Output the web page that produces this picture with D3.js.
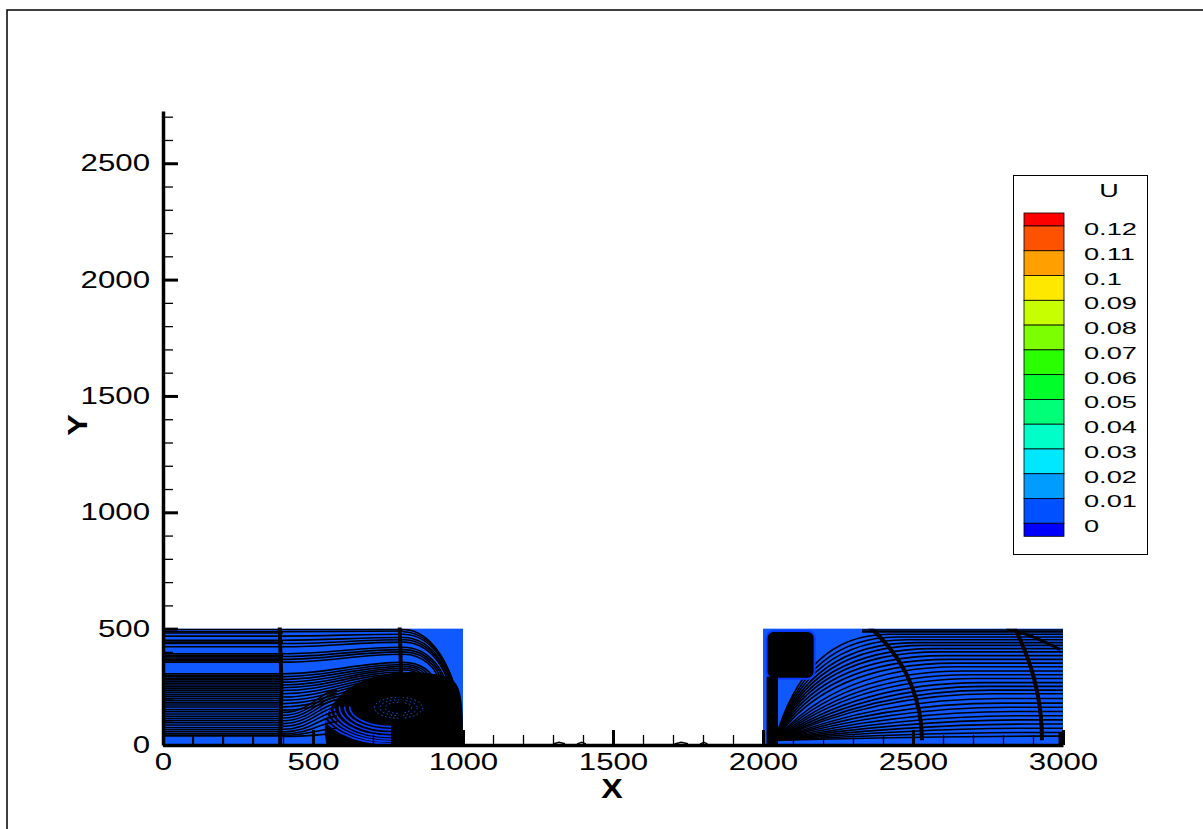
<!DOCTYPE html>
<html>
<head>
<meta charset="utf-8">
<script src="https://cdn.jsdelivr.net/npm/d3@7"></script>
<style>
body { margin: 0; background: #fff; }
text { font-family: "Liberation Sans", Arial, sans-serif; }
</style>
</head>
<body>
<div id="chart"></div>
<script>
// axis ticks
var xMajor = [0, 500, 1000, 1500, 2000, 2500, 3000];
var yMajor = [0, 500, 1000, 1500, 2000, 2500];

// contour legend (U)
var legendValues = [0.12, 0.11, 0.1, 0.09, 0.08, 0.07, 0.06, 0.05, 0.04, 0.03, 0.02, 0.01, 0];
var legendLabels = ["0.12", "0.11", "0.1", "0.09", "0.08", "0.07", "0.06", "0.05", "0.04", "0.03", "0.02", "0.01", "0"];
var legendColors = ["#ff0000", "#ff5200", "#ffa000", "#ffe800", "#c8ff00", "#7cff00", "#2aff00", "#00ff2a",
                    "#00ff78", "#00ffc8", "#00e8ff", "#009cff", "#0050ff", "#0000ff"];

// blue contour blocks [x0, x1, y0, y1]
var blocks = [[0, 1000, 0, 500], [2000, 3000, 0, 500]];

// left block: streamlines coming in from the left, y at x=0..400
var leftUpY = [497, 487, 481, 468, 450, 442, 436, 422, 392, 386, 380, 374, 368, 362, 356, 306, 300, 294, 287, 280,
               272, 265, 258, 250, 241, 233, 225, 216, 208, 199, 190, 181, 172, 163, 152, 143, 133, 123, 114, 105,
               96, 86, 75, 66, 57, 48];
// y at x=400 -> y at x=800
var leftMid = [[497, 498], [487, 490], [468, 476], [450, 462], [436, 452], [422, 442], [392, 420], [380, 410],
               [368, 400], [356, 390], [306, 355], [294, 346], [282, 338], [270, 330], [258, 322], [246, 314],
               [234, 306], [220, 298], [206, 290], [192, 282], [178, 274], [164, 266], [150, 258]];
// low lines lifting into the eddy: y at x=400 -> y at x=580
var leftInto = [[140, 236], [128, 222], [116, 208], [104, 194], [92, 178], [80, 162], [68, 144], [56, 124],
                [48, 100], [42, 72], [37, 48]];
// lines turning down on the wall: [y at x=800, x at wall, y at wall]
var leftTurn = [[497, 995, 30], [487, 990, 70], [476, 984, 100], [462, 976, 130], [452, 968, 155], [442, 960, 178],
                [420, 950, 200], [410, 942, 218], [400, 932, 234], [390, 922, 248], [355, 905, 262], [346, 892, 275],
                [338, 878, 286], [330, 862, 296], [322, 846, 305]];
var leftSeamX = [395, 795];
var leftBottomMarks = [100, 200, 300];
// eddy
var eddyOutline = [[545, 0], [530, 120], [610, 260], [780, 325], [930, 305], [1000, 270], [1000, 0]];
var eddyRings = [[235, 160], [220, 150], [205, 140], [190, 128], [172, 114], [155, 100], [138, 86]];
var eddyCore = [[80, 45], [62, 34], [44, 24]];

// right block: fan of streamlines from the lower left corner [end y, corner x, x where flat]
var fanOrigin = [2040, 20];
var fanLines = [[476, 2140, 2420], [464, 2145, 2450], [452, 2150, 2480], [440, 2155, 2510], [428, 2160, 2540],
                [414, 2165, 2570], [400, 2172, 2590], [384, 2182, 2610], [368, 2196, 2625],
                [352, 2215, 2640], [336, 2250, 2650], [318, 2265, 2670], [302, 2285, 2690], [286, 2300, 2710],
                [268, 2320, 2730], [252, 2340, 2750], [236, 2360, 2760], [220, 2375, 2770], [200, 2390, 2790],
                [180, 2400, 2800], [162, 2420, 2820], [144, 2440, 2840], [126, 2460, 2860], [108, 2480, 2880],
                [90, 2500, 2890], [72, 2520, 2900], [54, 2540, 2900], [38, 2560, 2900]];
var rightTopY = [494, 486];
var rightEddy = [2012, 2172, 285, 490];
var rightSeams = [[500, 640], [900, 1100]];
var rightSeamCenter = [2030, 20];
var rightCornerLine = [[2810, 500], [2900, 470], [2990, 410]];
var gapBits = [[1300, 1340], [1380, 1410], [1705, 1750], [1790, 1815]];

var width = 1203, height = 829;
var blue = "#1059ff";

var svg = d3.select("#chart").append("svg")
	.attr("width", width).attr("height", height);

// outer frame
svg.append("rect")
	.attr("x", 7).attr("y", 10).attr("width", 1210).attr("height", 840)
	.attr("fill", "none").attr("stroke", "#000").attr("stroke-width", 1.5);

var x = d3.scaleLinear().domain([0, 3000]).range([163, 1063]);
var y = d3.scaleLinear().domain([0, 2725]).range([745, 745 - 2725 * 0.2327]);

var line = d3.line().x(function(d) { return x(d[0]); }).y(function(d) { return y(d[1]); });
var curvy = d3.line().x(function(d) { return x(d[0]); }).y(function(d) { return y(d[1]); }).curve(d3.curveBasis);

function bez(p0, c1, c2, p1) {
	var p = d3.path();
	p.moveTo(x(p0[0]), y(p0[1]));
	p.bezierCurveTo(x(c1[0]), y(c1[1]), x(c2[0]), y(c2[1]), x(p1[0]), y(p1[1]));
	return p;
}

var defs = svg.append("defs");
blocks.forEach(function(b, i) {
	defs.append("clipPath").attr("id", "clip" + i).append("rect")
		.attr("x", x(b[0])).attr("y", y(b[3]))
		.attr("width", x(b[1]) - x(b[0])).attr("height", y(b[2]) - y(b[3]));
});

svg.selectAll(".block").data(blocks).enter().append("rect")
	.attr("class", "block")
	.attr("x", function(d) { return x(d[0]); })
	.attr("y", function(d) { return y(d[3]); })
	.attr("width", function(d) { return x(d[1]) - x(d[0]); })
	.attr("height", function(d) { return y(d[2]) - y(d[3]); })
	.attr("fill", blue);

// ---- left block ----
var gl = svg.append("g").attr("clip-path", "url(#clip0)");

gl.append("path")
	.attr("d", curvy(eddyOutline) + "Z")
	.attr("fill", "#000");

// blue arcs on the lower left of the eddy
gl.selectAll(".ring").data(eddyRings).enter().append("path")
	.attr("d", function(d) {
		var c = [760, 165];
		var rx = x(d[0]) - x(0), ry = y(0) - y(d[1]);
		return "M" + x(c[0] - d[0]) + "," + y(c[1]) + " A" + rx + "," + ry + " 0 0 0 " + x(c[0]) + "," + y(c[1] - d[1]);
	})
	.attr("fill", "none").attr("stroke", "#0a3cff").attr("stroke-width", 1.6);

gl.selectAll(".core").data(eddyCore).enter().append("ellipse")
	.attr("cx", x(785)).attr("cy", y(160))
	.attr("rx", function(d) { return x(d[0]) - x(0); })
	.attr("ry", function(d) { return y(0) - y(d[1]); })
	.attr("fill", "none").attr("stroke", blue).attr("stroke-width", 1)
	.attr("stroke-dasharray", "1.5,2.5");

gl.selectAll(".up").data(leftUpY).enter().append("path")
	.attr("d", function(d) { return line([[0, d], [400, d]]); })
	.attr("fill", "none").attr("stroke", "#000").attr("stroke-width", 1.6);

gl.selectAll(".mid").data(leftMid).enter().append("path")
	.attr("d", function(d) { return bez([400, d[0]], [550, d[0]], [650, d[1]], [800, d[1]]).toString(); })
	.attr("fill", "none").attr("stroke", "#000").attr("stroke-width", 1.6);

gl.selectAll(".into").data(leftInto).enter().append("path")
	.attr("d", function(d) { return bez([400, d[0]], [490, d[0]], [530, d[1]], [580, d[1]]).toString(); })
	.attr("fill", "none").attr("stroke", "#000").attr("stroke-width", 1.6);

gl.selectAll(".turn").data(leftTurn).enter().append("path")
	.attr("d", function(d) {
		return bez([800, d[0]], [800 + 0.55 * (d[1] - 800), d[0]], [d[1], d[0] - 0.45 * (d[0] - d[2])], [d[1], d[2]]).toString();
	})
	.attr("fill", "none").attr("stroke", "#000").attr("stroke-width", 1.6);

gl.append("path").attr("d", line([[0, 40], [400, 40]]))
	.attr("stroke", "#000").attr("stroke-width", 2);
gl.selectAll(".mark").data(leftBottomMarks).enter().append("path")
	.attr("d", function(d) { return line([[d, 0], [d, 40]]); })
	.attr("stroke", "#000").attr("stroke-width", 2);

svg.selectAll(".lseam").data(leftSeamX).enter().append("path")
	.attr("d", function(d) { return line([[d - 5, 0], [d, 250], [d - 6, 505]]); })
	.attr("stroke", "#000").attr("stroke-width", 4);

// ---- right block ----
var gr = svg.append("g").attr("clip-path", "url(#clip1)");

gr.selectAll(".fan").data(fanLines).enter().append("path")
	.attr("d", function(d) {
		var p = d3.path();
		p.moveTo(x(fanOrigin[0]), y(fanOrigin[1]));
		p.quadraticCurveTo(x(d[1]), y(d[0]), x(d[2]), y(d[0]));
		p.lineTo(x(3000), y(d[0]));
		return p.toString();
	})
	.attr("fill", "none").attr("stroke", "#000").attr("stroke-width", 1.6);

gr.selectAll(".top").data(rightTopY).enter().append("path")
	.attr("d", function(d) { return line([[2330, d], [3000, d]]); })
	.attr("fill", "none").attr("stroke", "#000").attr("stroke-width", 1.6);

gr.append("rect")
	.attr("x", x(rightEddy[0])).attr("y", y(rightEddy[3]))
	.attr("width", x(rightEddy[1]) - x(rightEddy[0])).attr("height", y(rightEddy[2]) - y(rightEddy[3]))
	.attr("rx", 7)
	.attr("fill", "#000").attr("stroke", "#0a3cff").attr("stroke-width", 2);
gr.append("rect")
	.attr("x", x(rightEddy[0])).attr("y", y(rightEddy[2]) - 2)
	.attr("width", x(2050) - x(rightEddy[0])).attr("height", y(0) - y(rightEddy[2]) + 2)
	.attr("fill", "#000");

gr.selectAll(".rseam").data(rightSeams).enter().append("path")
	.attr("d", function(d) {
		var c = rightSeamCenter;
		var rx = x(d[0]) - x(0), ry = y(0) - y(d[1]);
		return "M" + x(c[0] + d[0]) + "," + y(c[1]) + " A" + rx + "," + ry + " 0 0 0 " + x(c[0]) + "," + y(c[1] + d[1]);
	})
	.attr("fill", "none").attr("stroke", "#000").attr("stroke-width", 4);

gr.append("path").attr("d", curvy(rightCornerLine))
	.attr("fill", "none").attr("stroke", "#000").attr("stroke-width", 3);
gr.append("rect").attr("x", x(2985)).attr("y", y(55)).attr("width", x(3000) - x(2985)).attr("height", y(0) - y(55))
	.attr("fill", "#000");

svg.selectAll(".gap").data(gapBits).enter().append("path")
	.attr("d", function(d) { return line([[d[0], 4], [(d[0] + d[1]) / 2, 12], [d[1], 5]]); })
	.attr("fill", "none").attr("stroke", "#000").attr("stroke-width", 1.5);

// ---- axes ----
var yMinor = d3.range(100, 2800, 100).filter(function(v) { return v % 500 !== 0; });
var xMinor = d3.range(100, 3000, 100).filter(function(v) { return v % 500 !== 0; });
var fmt = d3.format("d");

var ga = svg.append("g").attr("transform", "translate(" + x(0) + ",0)");
ga.call(d3.axisLeft(y).tickValues(yMinor).tickSize(-10).tickFormat(""));
ga.selectAll("line").attr("stroke-width", 1.3);
ga.select(".domain").remove();

var gy = svg.append("g").attr("transform", "translate(" + x(0) + ",0)")
	.call(d3.axisLeft(y).tickValues(yMajor).tickFormat(fmt).tickSizeInner(-15).tickSizeOuter(0).tickPadding(10));
gy.select(".domain").attr("stroke-width", 3.5);
gy.selectAll("line").attr("stroke-width", 3);

var gb = svg.append("g").attr("transform", "translate(0," + y(0) + ")");
gb.call(d3.axisBottom(x).tickValues(xMinor).tickSize(-10).tickFormat(""));
gb.selectAll("line").attr("stroke-width", 1.3);
gb.select(".domain").remove();

var gx = svg.append("g").attr("transform", "translate(0," + y(0) + ")")
	.call(d3.axisBottom(x).tickValues(xMajor).tickFormat(fmt).tickSizeInner(-15).tickSizeOuter(0).tickPadding(8));
gx.select(".domain").attr("stroke-width", 3.5);
gx.selectAll("line").attr("stroke-width", 3);

[gy, gx].forEach(function(g) {
	g.attr("font-family", null).attr("font-size", null);
	g.selectAll("text")
		.style("font-family", "'Liberation Sans', Arial, sans-serif")
		.style("font-size", "24px")
		.attr("fill", "#000")
		.attr("transform", "scale(1.3,1)");
});

svg.append("text")
	.attr("x", 612).attr("y", 798)
	.attr("text-anchor", "middle")
	.style("font-size", "28px").style("font-weight", "bold")
	.attr("transform", "translate(612,0) scale(1.15,1) translate(-612,0)")
	.text("X");
svg.append("text")
	.attr("transform", "translate(87,425) rotate(-90) scale(1.15,1)")
	.attr("text-anchor", "middle")
	.style("font-size", "28px").style("font-weight", "bold")
	.text("Y");

// ---- legend ----
var lg = svg.append("g");
lg.append("rect")
	.attr("x", 1013.5).attr("y", 175.5).attr("width", 134).attr("height", 379)
	.attr("fill", "#fff").attr("stroke", "#000").attr("stroke-width", 1);

var ls = d3.scaleLinear().domain([0, 0.12]).range([523.3, 226]);
var bands = legendColors.map(function(c, i) {
	var top = i === 0 ? ls(0.12) - 13 : ls(legendValues[i - 1]);
	var bot = i === legendColors.length - 1 ? ls(0) + 13 : ls(legendValues[i]);
	return { c: c, top: top, bot: bot };
});
lg.selectAll(".band").data(bands).enter().append("rect")
	.attr("x", 1024).attr("width", 40)
	.attr("y", function(d) { return d.top; })
	.attr("height", function(d) { return d.bot - d.top; })
	.attr("fill", function(d) { return d.c; })
	.attr("stroke", "#000").attr("stroke-width", 0.8);

lg.selectAll(".lab").data(legendValues).enter().append("text")
	.attr("transform", function(d) { return "translate(1084," + (ls(d) + 3) + ") scale(1.6,1)"; })
	.attr("dy", "0.35em")
	.style("font-size", "17px")
	.text(function(d, i) { return legendLabels[i]; });

lg.append("text")
	.attr("transform", "translate(1109,191) scale(1.5,1)")
	.attr("dy", "0.35em").attr("text-anchor", "middle")
	.style("font-size", "18px")
	.text("U");
</script>
</body>
</html>
